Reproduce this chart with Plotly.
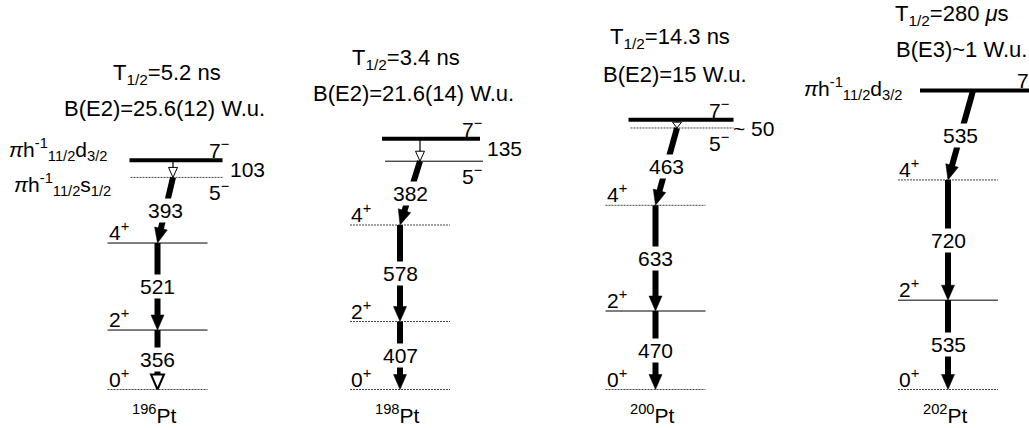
import math
import plotly.graph_objects as go

# ---------------- data ----------------
NUCLEI = ['196', '198', '200', '202']
E_0PLUS = [0, 0, 0, 0]
E_2PLUS = [356, 407, 470, 535]
E_4PLUS = [877, 985, 1103, 1255]
E_5MINUS = [1270, 1367, 1566, None]
E_7MINUS = [1373, 1502, 1616, 1790]
G_2_0 = ['356', '407', '470', '535']
G_4_2 = ['521', '578', '633', '720']
G_5_4 = ['393', '382', '463', None]
G_7_5 = ['103', '135', '~ 50', None]
G_7_4 = [None, None, None, '535']
HALF_LIFE = ['5.2 ns', '3.4 ns', '14.3 ns', '280 <i>μ</i>s']
B_VALUE = ['B(E2)=25.6(12) W.u.', 'B(E2)=21.6(14) W.u.', 'B(E2)=15 W.u.', 'B(E3)~1 W.u.']
CONF_D = '<i>π</i>h<sup>-1</sup><sub>11/2</sub>d<sub>3/2</sub>'
CONF_S = '<i>π</i>h<sup>-1</sup><sub>11/2</sub>s<sub>1/2</sub>'
CONF_7 = [CONF_D, None, None, CONF_D]
CONF_5 = [CONF_S, None, None, None]

# ---------------- layout / style ----------------
W, H = 1029, 428
Y_BASE = 389.5          # pixel row of 0 keV
S = 0.167               # pixels per keV
Y_RANGE = [-(H - Y_BASE) / S, Y_BASE / S]
FONT = 'Liberation Sans, Arial, sans-serif'

COL_X = [157.5, 400, 655.5, 948]
LOW_HALF = 50
UP7_EXT = [(-28, 65), (-18, 80), (-27, 78), (-28, 100)]
UP5_EXT = [(-27, 65), (-15, 83), (-25, 78), None]
UP_DX = [15.5, 20, 21.5, 25]
DOT = '2px,1px'
DASH_0 = [DOT, DOT, DOT, DOT]
DASH_2 = ['solid', DOT, 'solid', 'solid']
DASH_4 = ['solid', DOT, DOT, DOT]
DASH_5 = [DOT, 'solid', DOT, None]
TITLE_T = [(167, 74), (406, 59), (670, 38), (952, 15)]
TITLE_B = [(164, 108), (413, 93), (675, 74), (961, 49)]
UP_LABEL_R = [73, 84, 75, None]
SIDE_LABEL = [(228, 169), (485, 148), (731, 128), None]
CONF7_POS = [(109, 149), None, None, (904, 88)]
CONF5_POS = [(113, 184), None, None, None]
OPEN_HEAD_356 = [True, False, False, False]
TITLE_SIZE = 22
GAMMA_SIZE = 21
SPIN_SIZE = 21


def ypx(e):
    return Y_BASE - e * S


def ekev(py):
    return (Y_BASE - py) / S


fig = go.Figure()


def level(x1, x2, e, width=1, dash='solid'):
    col = '#000' if dash == 'solid' else '#444'
    fig.add_trace(go.Scatter(x=[x1, x2], y=[e, e], mode='lines',
                             line=dict(color=col, width=width, dash=dash),
                             hoverinfo='skip'))


def arrow(x1, e1, x2, e2, width=6, head_len=15, head_w=6.5,
          fill='black', outline=0.5):
    X1, Y1, X2, Y2 = x1, ypx(e1), x2, ypx(e2)
    dx, dy = X2 - X1, Y2 - Y1
    L = math.hypot(dx, dy)
    ux, uy = dx / L, dy / L
    nx, ny = -uy, ux
    bx, by = X2 - head_len * ux, Y2 - head_len * uy
    lx, ly = bx + 1.0 * ux, by + 1.0 * uy
    fig.add_trace(go.Scatter(x=[X1, lx], y=[e1, ekev(ly)], mode='lines',
                             line=dict(color='black', width=width),
                             hoverinfo='skip'))
    px = [X2, bx + head_w * nx, bx - head_w * nx, X2]
    py = [Y2, by + head_w * ny, by - head_w * ny, Y2]
    fig.add_trace(go.Scatter(x=px, y=[ekev(v) for v in py], mode='lines',
                             fill='toself', fillcolor=fill,
                             line=dict(color='black', width=outline),
                             hoverinfo='skip'))


annots = []


def text(x, py, s, size=21, xanchor='center', bg=None):
    a = dict(x=x, y=ekev(py), xref='x', yref='y', text=s, showarrow=False,
             xanchor=xanchor, yanchor='middle',
             font=dict(family=FONT, size=size, color='black'))
    if bg:
        a.update(bgcolor=bg, borderpad=0)
    annots.append(a)


def glabel(x1, e1, x2, e2, s):
    text((x1 + x2) / 2, (ypx(e1) + ypx(e2)) / 2, s, size=GAMMA_SIZE, bg='white')


for i, nuc in enumerate(NUCLEI):
    xc = COL_X[i]
    xl, xr = xc - LOW_HALF, xc + LOW_HALF
    # low-lying levels
    for e, dash, spin in ((E_0PLUS[i], DASH_0[i], '0'), (E_2PLUS[i], DASH_2[i], '2'),
                          (E_4PLUS[i], DASH_4[i], '4')):
        level(xl, xr, e, dash=dash)
        text(xl - 1, ypx(e) - 12, f'{spin}<sup>+</sup>', size=SPIN_SIZE, xanchor='left')
    # 7- isomer
    a7, b7 = UP7_EXT[i]
    level(xc + a7, xc + b7, E_7MINUS[i], width=4)
    # 5- level
    if E_5MINUS[i] is not None:
        a5, b5 = UP5_EXT[i]
        level(xc + a5, xc + b5, E_5MINUS[i], dash=DASH_5[i])
    xu = xc + UP_DX[i]
    # transitions
    if E_5MINUS[i] is not None:
        span = (ypx(E_5MINUS[i]) - ypx(E_7MINUS[i]))
        hl = min(10, 0.7 * span)
        arrow(xu, E_7MINUS[i], xu, E_5MINUS[i], width=1.2, head_len=hl,
              head_w=4.5, fill='white', outline=1)
        arrow(xu, E_5MINUS[i], xc, E_4PLUS[i])
        glabel(xu, E_5MINUS[i], xc, E_4PLUS[i], G_5_4[i])
    else:
        arrow(xu, E_7MINUS[i], xc, E_4PLUS[i])
        glabel(xu, E_7MINUS[i], xc, E_4PLUS[i], G_7_4[i])
    arrow(xc, E_4PLUS[i], xc, E_2PLUS[i])
    glabel(xc, E_4PLUS[i], xc, E_2PLUS[i], G_4_2[i])
    if OPEN_HEAD_356[i]:
        arrow(xc, E_2PLUS[i], xc, E_0PLUS[i], fill='white', outline=2)
    else:
        arrow(xc, E_2PLUS[i], xc, E_0PLUS[i])
    glabel(xc, E_2PLUS[i], xc, E_0PLUS[i], G_2_0[i])
    # spin labels on upper levels
    if UP_LABEL_R[i] is not None:
        text(xc + UP_LABEL_R[i], ypx(E_7MINUS[i]) - 11, '7<sup>−</sup>', size=SPIN_SIZE, xanchor='right')
        text(xc + UP_LABEL_R[i], ypx(E_5MINUS[i]) + 14, '5<sup>−</sup>', size=SPIN_SIZE, xanchor='right')
        sx, sy = SIDE_LABEL[i]
        text(sx, sy, G_7_5[i], size=GAMMA_SIZE, xanchor='left')
    else:
        text(1015, ypx(E_7MINUS[i]) - 12, '7<sup>−</sup>', size=SPIN_SIZE, xanchor='left')
    if CONF_7[i]:
        cx, cy = CONF7_POS[i]
        text(cx, cy, CONF_7[i], size=21, xanchor='right')
    if CONF_5[i]:
        cx, cy = CONF5_POS[i]
        text(cx, cy, CONF_5[i], size=21, xanchor='right')
    # titles
    tx, ty = TITLE_T[i]
    text(tx, ty, f'T<sub>1/2</sub>={HALF_LIFE[i]}', size=TITLE_SIZE)
    bx_, by_ = TITLE_B[i]
    text(bx_, by_, B_VALUE[i], size=TITLE_SIZE)
    # nucleus
    text(xc - 3, 414, f'<sup>{nuc}</sup>Pt', size=21)

fig.update_layout(
    width=W, height=H, margin=dict(l=0, r=0, t=0, b=0),
    paper_bgcolor='white', plot_bgcolor='white', showlegend=False,
    xaxis=dict(range=[0, W], visible=False, fixedrange=True),
    yaxis=dict(range=Y_RANGE, visible=False, fixedrange=True),
    annotations=annots,
)

fig.write_html('out.html')
